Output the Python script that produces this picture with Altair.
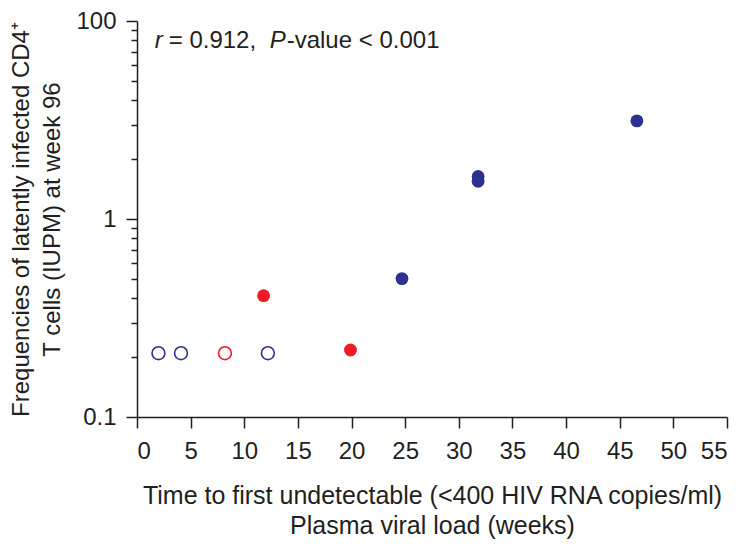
import altair as alt
import pandas as pd

# Data
weeks = [2.0, 4.1, 8.2, 11.8, 12.2, 19.9, 24.7, 31.8, 31.8, 46.6]
iupm = [0.21, 0.21, 0.21, 0.41, 0.21, 0.218, 0.50, 1.64, 1.55, 3.13]
group = ["blue", "blue", "red", "red", "blue", "red", "blue", "blue", "blue", "blue"]
filled = [False, False, False, True, False, True, True, True, True, True]

y_tick_values = [0.1, 0.2, 0.3, 0.4, 0.5, 0.6, 0.7, 0.8, 0.9,
                 1, 2, 3, 4, 5, 6, 7, 8, 9, 10]
x_tick_values = [0, 5, 10, 15, 20, 25, 30, 35, 40, 45, 50, 55]

ann_text = ["r", "= 0.912,", "P", "-value < 0.001"]
ann_style = ["italic", "normal", "italic", "normal"]
ann_dx = [0, 14, 115, 132]

df = pd.DataFrame({"weeks": weeks, "iupm": iupm, "group": group, "filled": filled})

FONT = "Liberation Sans"
LFS = 24
TFS = 25
INK = "#231f20"
BLUE = "#2e3192"
RED = "#ed1c24"

x_enc = alt.X(
    "weeks:Q",
    scale=alt.Scale(domain=[0, 55], nice=False, zero=False),
    axis=alt.Axis(
        values=x_tick_values,
        title=["Time to first undetectable (<400 HIV RNA copies/ml)", "Plasma viral load (weeks)"],
        tickSize=11, labelPadding=11, titlePadding=20, titleLineHeight=30,
        grid=False,
    ),
)
y_enc = alt.Y(
    "iupm:Q",
    scale=alt.Scale(type="log", domain=[0.1, 10], nice=False),
    axis=alt.Axis(
        values=y_tick_values,
        title=["Frequencies of latently infected CD4\u207a", "T cells (IUPM) at week 96"],
        labelExpr="abs(datum.value-10)<1e-6 ? '100' : (abs(datum.value-1)<1e-6 ? '1' : (abs(datum.value-0.1)<1e-6 ? '0.1' : ''))",
        tickSize={"condition": {"test": "abs(log(datum.value)/LN10 - round(log(datum.value)/LN10)) < 1e-6", "value": 11}, "value": 6},
        labelPadding=10, titlePadding=11, titleLineHeight=31, titleFontSize=24,
        grid=False,
    ),
)

color_scale = alt.Scale(domain=["blue", "red"], range=[BLUE, RED])

filled_pts = alt.Chart(df).transform_filter("datum.filled").mark_point(
    filled=True, shape="circle", size=165, opacity=1
).encode(
    x=x_enc, y=y_enc,
    color=alt.Color("group:N", scale=color_scale, legend=None),
)

open_pts = alt.Chart(df).transform_filter("!datum.filled").mark_point(
    filled=False, shape="circle", size=165, strokeWidth=1.6, opacity=1
).encode(
    x=x_enc, y=y_enc,
    color=alt.Color("group:N", scale=color_scale, legend=None),
)

ann_layers = []
for t, s, d in zip(ann_text, ann_style, ann_dx):
    ann_layers.append(
        alt.Chart(pd.DataFrame({"text": [t], "x": [1.65], "y": [7.3]})).mark_text(
            align="left", baseline="alphabetic", font=FONT, fontSize=LFS,
            fontStyle=s, dx=d, color=INK,
        ).encode(
            x=alt.X("x:Q", scale=alt.Scale(domain=[0, 55], nice=False, zero=False)),
            y=alt.Y("y:Q", scale=alt.Scale(type="log", domain=[0.1, 10], nice=False)),
            text="text:N",
        )
    )

chart = alt.layer(open_pts, filled_pts, *ann_layers).properties(
    width=590, height=396,
    autosize=alt.AutoSizeParams(type="none"),
    padding={"left": 129, "top": 13, "right": 10, "bottom": 126},
    background="white",
).configure_view(stroke=None).configure_axis(
    labelFont=FONT, titleFont=FONT, labelFontSize=LFS, titleFontSize=TFS,
    labelColor=INK, titleColor=INK, titleFontWeight="normal",
    domainColor=INK, tickColor=INK, domainWidth=1.5, tickWidth=1.5,
)

chart.save("out.html", embed_options={"renderer": "svg", "actions": False})
